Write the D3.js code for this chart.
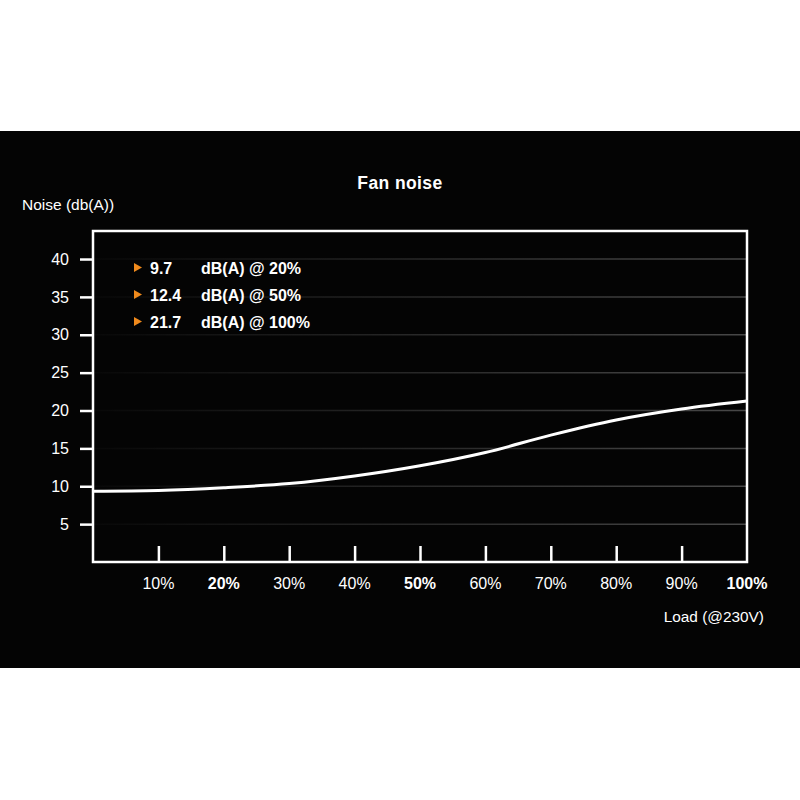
<!DOCTYPE html>
<html><head><meta charset="utf-8">
<script src="https://cdn.jsdelivr.net/npm/d3@7"></script>
<style>
html,body{margin:0;padding:0;background:#fff;}
svg{display:block;font-family:"Liberation Sans",Arial,Helvetica,sans-serif;}
</style></head>
<body>
<svg id="c" width="800" height="800"></svg>
<script>
// Data
const loadPct = [0, 10, 20, 30, 40, 50, 60, 70, 80, 90, 100];
const noiseDb = [9.35, 9.45, 9.8, 10.35, 11.35, 12.7, 14.45, 16.75, 18.75, 20.2, 21.25];
const yTicks = [5, 10, 15, 20, 25, 30, 35, 40];
const xTicks = [10, 20, 30, 40, 50, 60, 70, 80, 90, 100];
const xBoldTicks = [20, 50, 100];
const legendValues = ["9.7", "12.4", "21.7"];
const legendLabels = ["dB(A) @ 20%", "dB(A) @ 50%", "dB(A) @ 100%"];

const svg = d3.select("#c");
svg.append("rect").attr("x",0).attr("y",131).attr("width",800).attr("height",537).attr("fill","#040404");

const L = 93, R = 747, T = 231, B = 562;
const x = d3.scaleLinear().domain([0,100]).range([L,R]);
const y = d3.scaleLinear().domain([0,43.7]).range([B,T]);

const defs = svg.append("defs");
const g = defs.append("linearGradient").attr("id","gridg").attr("gradientUnits","userSpaceOnUse")
  .attr("x1",L).attr("x2",R).attr("y1",0).attr("y2",0);
g.append("stop").attr("offset","0").attr("stop-color","#080808");
g.append("stop").attr("offset","0.35").attr("stop-color","#1e1e1e");
g.append("stop").attr("offset","1").attr("stop-color","#484848");

// gridlines
svg.append("g").selectAll("line").data(yTicks).join("line")
  .attr("x1",L).attr("x2",R).attr("y1",d=>y(d)).attr("y2",d=>y(d))
  .attr("stroke","url(#gridg)").attr("stroke-width",1.5);

// y axis ticks + labels
const yAxis = d3.axisLeft(y).tickValues(yTicks).tickSize(13).tickPadding(11).tickFormat(d3.format("d"));
const ya = svg.append("g").attr("transform",`translate(${L},0)`).call(yAxis);
ya.select(".domain").remove();
ya.selectAll("line").attr("stroke","#fff").attr("stroke-width",2.5);
ya.selectAll("text").attr("fill","#fff").attr("font-size",16).attr("font-family","Liberation Sans, Arial, sans-serif");

// x axis inner ticks
const xa = svg.append("g").attr("transform",`translate(0,${B})`)
  .call(d3.axisTop(x).tickValues(xTicks.filter(d=>d<100)).tickSize(16).tickFormat(""));
xa.select(".domain").remove();
xa.selectAll("line").attr("stroke","#fff").attr("stroke-width",2.5);

// x labels
svg.append("g").selectAll("text").data(xTicks).join("text")
  .attr("x",d=>x(d)).attr("y",589).attr("text-anchor","middle")
  .attr("fill","#fff").attr("font-size",16)
  .attr("font-weight",d=>xBoldTicks.includes(d)?"bold":"normal")
  .text(d=>d+"%");

// plot border
svg.append("rect").attr("x",L).attr("y",T).attr("width",R-L).attr("height",B-T)
  .attr("fill","none").attr("stroke","#fff").attr("stroke-width",2.5);

// curve
const line = d3.line().x((d,i)=>x(loadPct[i])).y(d=>y(d)).curve(d3.curveMonotoneX);
svg.append("path").datum(noiseDb).attr("d",line).attr("fill","none")
  .attr("stroke","#fff").attr("stroke-width",3);

// titles
svg.append("text").attr("x",400).attr("y",189).attr("text-anchor","middle")
  .attr("fill","#fff").attr("font-weight","bold").attr("font-size",17.5).attr("letter-spacing",0.4).text("Fan noise");
svg.append("text").attr("x",22).attr("y",210).attr("fill","#fff").attr("font-size",15.5).text("Noise (db(A))");
svg.append("text").attr("x",764).attr("y",622).attr("text-anchor","end").attr("fill","#fff").attr("font-size",15.4).text("Load (@230V)");

// legend
const lg = svg.append("g");
legendValues.forEach((v,i)=>{
  const yy = 274 + i*27;
  lg.append("path").attr("d",`M134,${yy-11} L142,${yy-6.5} L134,${yy-2} Z`).attr("fill","#f08a1c");
  lg.append("text").attr("x",150).attr("y",yy).attr("fill","#fff").attr("font-weight","bold").attr("font-size",16).text(v);
  lg.append("text").attr("x",201).attr("y",yy).attr("fill","#fff").attr("font-weight","bold").attr("font-size",16).text(legendLabels[i]);
});
</script>
</body></html>
